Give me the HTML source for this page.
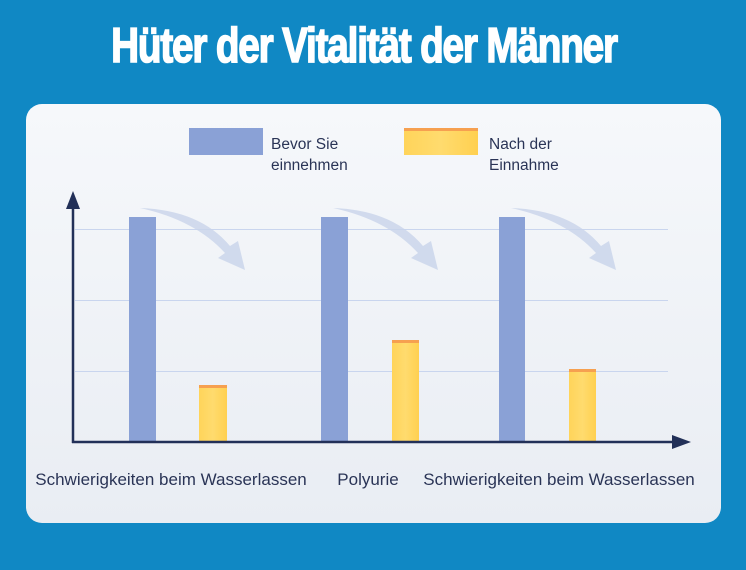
<!DOCTYPE html>
<html><head><meta charset="utf-8"><style>
body{margin:0;width:746px;height:570px;background:#1088c4;overflow:hidden;position:relative;font-family:"Liberation Sans",sans-serif}
.title{position:absolute;left:-9px;width:746px;top:18px;text-align:center;color:#fff;font-family:"Liberation Sans",sans-serif;font-weight:bold;font-size:49px;line-height:56px;letter-spacing:-1.5px;transform:scaleX(0.79);-webkit-text-stroke:1.6px #fff}
.card{position:absolute;left:26px;top:104px;width:695px;height:419px;border-radius:16px;background:linear-gradient(180deg,#f6f8fb,#e9edf3)}
</style></head><body>
<div class="title">Hüter der Vitalität der Männer</div>
<div class="card"></div>
<svg width="746" height="570" style="position:absolute;left:0;top:0">
<defs>
<linearGradient id="y" x1="0" x2="1"><stop offset="0" stop-color="#ffd45a"/><stop offset=".5" stop-color="#ffdb6e"/><stop offset="1" stop-color="#ffd050"/></linearGradient>
<path id="ar" d="M140,208 Q200,210 230,246 L238,241 L245,270 L218,258 L225,253 Q195,220 140,208Z" fill="#c8d3ea" opacity=".8"/>
</defs>
<g stroke="#c9d5ee" stroke-width="1"><line x1="75" y1="229.5" x2="668" y2="229.5"/><line x1="75" y1="300.5" x2="668" y2="300.5"/><line x1="75" y1="371.5" x2="668" y2="371.5"/></g>
<use href="#ar"/><use href="#ar" x="193"/><use href="#ar" x="371"/>
<g fill="#8aa1d6"><rect x="129" y="217" width="27" height="225"/><rect x="321" y="217" width="27" height="225"/><rect x="499" y="217" width="26" height="225"/>
<rect x="189" y="128" width="74" height="27"/></g>
<g fill="url(#y)"><rect x="199" y="385" width="28" height="57"/><rect x="392" y="340" width="27" height="102"/><rect x="569" y="369" width="27" height="73"/><rect x="404" y="128" width="74" height="27"/></g>
<g fill="#f6a050"><rect x="199" y="385" width="28" height="3"/><rect x="392" y="340" width="27" height="3"/><rect x="569" y="369" width="27" height="3"/><rect x="404" y="128" width="74" height="3"/></g>
<g stroke="#223058" stroke-width="2.5"><line x1="73" y1="205" x2="73" y2="443"/><line x1="72" y1="442" x2="675" y2="442"/></g>
<g fill="#223058"><polygon points="73,191 66,209 80,209"/><polygon points="691,442 672,435 672,449"/></g>
<g fill="#2a3456" font-size="15.5">
<text x="271" y="149">Bevor Sie</text><text x="271" y="170">einnehmen</text>
<text x="489" y="149">Nach der</text><text x="489" y="170">Einnahme</text>
</g>
<g fill="#2a3456" font-size="17">
<text x="171" y="485" text-anchor="middle">Schwierigkeiten beim Wasserlassen</text>
<text x="368" y="485" text-anchor="middle">Polyurie</text>
<text x="559" y="485" text-anchor="middle">Schwierigkeiten beim Wasserlassen</text>
</g>
</svg>
</body></html>
